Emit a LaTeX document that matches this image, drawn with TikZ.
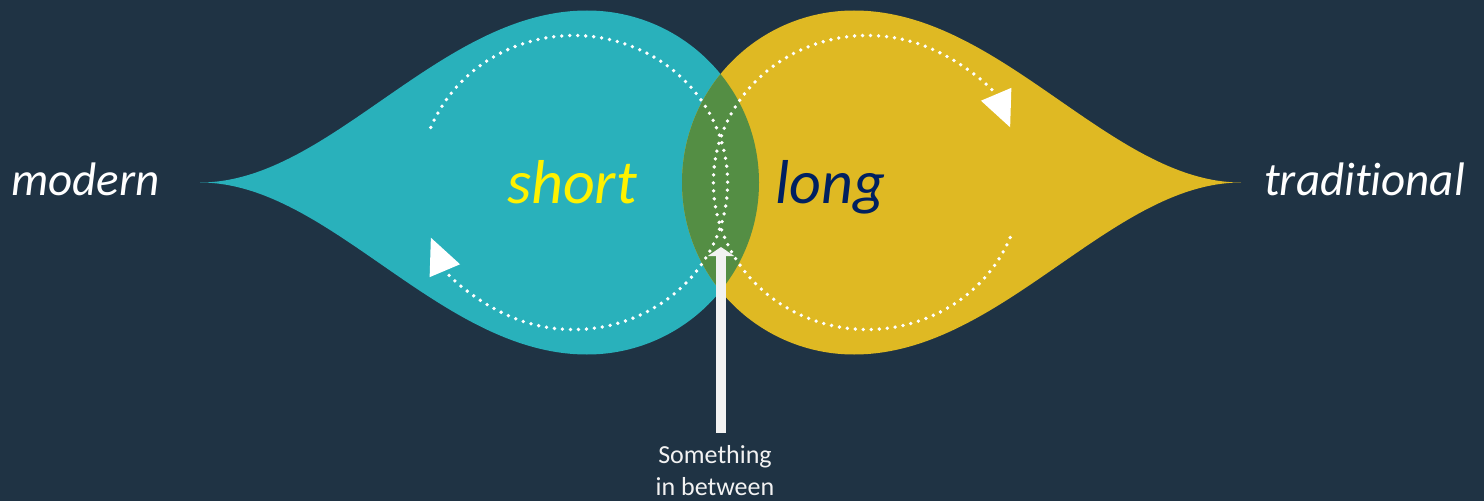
\documentclass[tikz,border=0pt]{standalone}
\usepackage{fontspec}
\setmainfont{Carlito}[Ligatures=NoCommon]
\usetikzlibrary{arrows.meta}
\definecolor{bgnavy}{HTML}{1F3344}
\definecolor{dropteal}{HTML}{29B1BB}
\definecolor{dropyellow}{HTML}{DFB923}
\definecolor{lensgreen}{HTML}{548E44}
\definecolor{longblue}{HTML}{002060}
\tikzset{
         dotloop/.style={white,line width=3.8pt,line cap=round,dash pattern=on 0pt off 8pt,
                         -{Triangle[length=36pt,width=32pt]}},
         bigword/.style={font=\fontsize{62}{70}\selectfont\itshape,inner sep=0pt,anchor=base west},
         sidelabel/.style={font=\fontsize{47}{56}\selectfont\itshape,text=white,inner sep=0pt,anchor=base west},
         uparrow/.style={draw=white!95!black,line width=10pt,-{Triangle[length=9pt,width=26pt]}}
        }

\begin{document}
\begin{tikzpicture}[x=1pt,y=1pt]

%%% Background
\fill[bgnavy] (0,182.5) rectangle (1484,-318.5); % page
\useasboundingbox (0,182.5) rectangle (1484,-318.5);

%%% Drops
\fill[dropteal] (200,0) .. controls (330,0) and (440,172) .. (587,172)
   arc[start angle=90,end angle=-90,radius=172pt]
   .. controls (440,-172) and (330,0) .. (200,0) -- cycle; % left drop
\fill[dropyellow] (1241,0) .. controls (1111,0) and (1001,172) .. (854,172)
   arc[start angle=90,end angle=270,radius=172pt]
   .. controls (1001,-172) and (1111,0) .. (1241,0) -- cycle; % right drop
\begin{scope}
  \clip (587,0) circle[radius=172pt];
  \fill[lensgreen] (854,0) circle[radius=172pt]; % overlap
\end{scope}

%%% Dotted loops
\draw[dotloop] (573.6,0) ++(158:154pt and 147pt)
   arc[start angle=158,end angle=-158,x radius=154pt,y radius=147pt]; % left loop
\draw[dotloop] (867.4,0) ++(-22:154pt and 147pt)
   arc[start angle=-22,end angle=-338,x radius=154pt,y radius=147pt]; % right loop

%%% Labels
\node[bigword,text=yellow] (short) at (507,-20.5) {short}; % short label
\node[bigword,text=longblue] (long) at (775,-20.5) {long}; % long label
\node[sidelabel] (modern) at (11,-12.5) {modern}; % modern label
\node[sidelabel] (trad) at (1264,-12.5) {traditional}; % traditional label

%%% Something in between
\coordinate (lensbottom) at (721,-64.5); % tip of arrow
\node[text=white!95!black,font=\fontsize{26}{32}\selectfont,align=center,inner sep=0pt,anchor=north]
   (between) at (715,-263) {Something\\in between}; % bottom label
\draw[uparrow] ([yshift=13pt]lensbottom |- between.north) -- (lensbottom); % arrow into overlap

\end{tikzpicture}
\end{document}
